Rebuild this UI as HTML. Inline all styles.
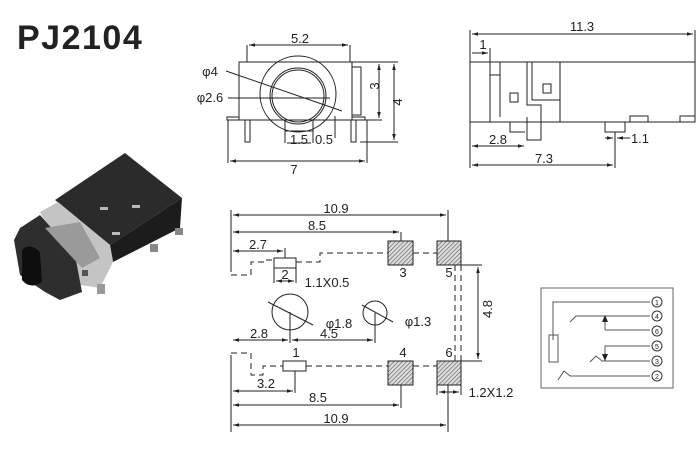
<!DOCTYPE html>
<html><head><meta charset="utf-8"><style>
html,body{margin:0;padding:0;background:#fff;}
svg{display:block;}
text{font-family:"Liberation Sans",Arial,sans-serif;fill:#222;}
</style></head><body>
<svg width="700" height="450" viewBox="0 0 700 450" xmlns="http://www.w3.org/2000/svg">
<defs>
<marker id="a" viewBox="0 0 10 10" refX="10" refY="5" markerWidth="8" markerHeight="6" orient="auto-start-reverse"><path d="M0,2 L10,5 L0,8 z" fill="#222"/></marker>
<pattern id="h" width="3" height="3" patternUnits="userSpaceOnUse" patternTransform="rotate(45)"><rect width="3" height="3" fill="#ddd"/><line x1="0" y1="0" x2="0" y2="3" stroke="#555" stroke-width="1.2"/></pattern>
</defs>
<text x="17" y="49" font-size="34" font-weight="bold" fill="#111" letter-spacing="1.5">PJ2104</text>

<!-- photo -->
<g>
<polygon points="55,200 125,153 182,198 110,245" fill="#2b2b2b"/>
<polygon points="110,245 182,198 180,228 113,262" fill="#1c1c1c"/>
<polygon points="40,212 58,202 110,245 113,262 100,288 80,285" fill="#c4c4c4"/>
<polygon points="20,228 40,215 75,255 82,292 60,300 45,292 20,275 14,240" fill="#2e2e2e"/>
<polygon points="45,228 80,222 100,258 82,268" fill="#9a9a9a"/>
<path d="M22,250 Q30,242 40,252 L42,282 Q30,290 22,280 z" fill="#0e0e0e"/>
<rect x="100" y="207" width="8" height="3" fill="#bbb"/><rect x="132" y="205" width="8" height="3" fill="#bbb"/><rect x="112" y="232" width="8" height="3" fill="#bbb"/>
<rect x="150" y="244" width="8" height="8" fill="#888"/><rect x="175" y="228" width="8" height="7" fill="#888"/>
<rect x="97" y="284" width="8" height="10" fill="#999"/><rect x="82" y="270" width="6" height="6" fill="#555"/>
</g>

<g stroke="#222" stroke-width="1" fill="none">
<!-- front view -->
<rect x="239" y="62" width="113" height="58"/>
<polyline points="239,117 227,117 227,120 365,120 365,117 352,117"/>
<rect x="245" y="120" width="5" height="22"/><rect x="351" y="120" width="5" height="22"/>
<rect x="352" y="67" width="9" height="48"/>
<circle cx="298" cy="94" r="38"/>
<circle cx="298" cy="96" r="28"/><circle cx="298" cy="96" r="26"/>
<polyline points="285,120 285,131 313,131 313,120"/>
<line x1="247" y1="45" x2="247" y2="62"/><line x1="350" y1="45" x2="350" y2="62"/>
<line x1="249" y1="45" x2="348" y2="45" marker-start="url(#a)" marker-end="url(#a)"/>
<line x1="228" y1="120" x2="228" y2="163"/><line x1="367" y1="120" x2="367" y2="163"/>
<line x1="230" y1="161" x2="365" y2="161" marker-start="url(#a)" marker-end="url(#a)"/>
<line x1="352" y1="62" x2="398" y2="62"/><line x1="362" y1="120" x2="382" y2="120"/><line x1="360" y1="142" x2="398" y2="142"/>
<line x1="379" y1="64" x2="379" y2="118" marker-start="url(#a)" marker-end="url(#a)"/>
<line x1="394" y1="64" x2="394" y2="140" marker-start="url(#a)" marker-end="url(#a)"/>
<line x1="226" y1="71" x2="342" y2="111"/>
<line x1="228" y1="98" x2="330" y2="98"/>
<line x1="335" y1="116" x2="335" y2="138"/><line x1="285" y1="131" x2="285" y2="143"/><line x1="313" y1="131" x2="313" y2="143"/>
<line x1="287" y1="143" x2="311" y2="143"/>

<!-- side view -->
<rect x="470" y="62" width="225" height="60"/>
<line x1="490" y1="62" x2="490" y2="122"/>
<line x1="490" y1="75" x2="500" y2="75"/>
<line x1="500" y1="62" x2="500" y2="117"/>
<polyline points="527,62 527,105 541,105 541,140 527,140 527,117"/>
<line x1="532" y1="62" x2="532" y2="100"/><line x1="532" y1="100" x2="560" y2="100"/><line x1="560" y1="62" x2="560" y2="122"/>
<rect x="510" y="93" width="8" height="9"/><rect x="543" y="84" width="8" height="9"/>
<polyline points="510,122 510,132 525,132"/>
<polyline points="605,122 605,132 625,132 625,122"/>
<rect x="630" y="116" width="18" height="6"/><rect x="680" y="116" width="15" height="6"/>
<line x1="470" y1="30" x2="470" y2="62"/><line x1="695" y1="30" x2="695" y2="62"/>
<line x1="472" y1="34" x2="693" y2="34" marker-start="url(#a)" marker-end="url(#a)"/>
<line x1="490" y1="48" x2="490" y2="62"/>
<line x1="472" y1="53" x2="488" y2="53" marker-end="url(#a)"/>
<line x1="470" y1="122" x2="470" y2="168"/>
<line x1="472" y1="146" x2="524" y2="146" marker-start="url(#a)" marker-end="url(#a)"/>
<line x1="472" y1="165" x2="613" y2="165" marker-start="url(#a)" marker-end="url(#a)"/>
<line x1="615" y1="132" x2="615" y2="168"/>
<line x1="605" y1="138" x2="613" y2="138" marker-end="url(#a)"/><line x1="630" y1="138" x2="617" y2="138" marker-end="url(#a)"/>

<!-- footprint -->
<line x1="231" y1="210" x2="231" y2="272"/><line x1="231" y1="355" x2="231" y2="432"/>
<line x1="448" y1="210" x2="448" y2="241"/><line x1="448" y1="385" x2="448" y2="432"/>
<line x1="233" y1="215" x2="446" y2="215" marker-start="url(#a)" marker-end="url(#a)"/>
<line x1="233" y1="232" x2="399" y2="232" marker-start="url(#a)" marker-end="url(#a)"/>
<line x1="401" y1="232" x2="401" y2="241"/>
<line x1="233" y1="251" x2="283" y2="251" marker-start="url(#a)" marker-end="url(#a)"/>
<line x1="285" y1="248" x2="285" y2="258"/>
<g stroke-dasharray="6,4">
<polyline points="231,275 251,275 251,262 265,262 265,260 274,260"/>
<polyline points="296,262 320,262 320,253 388,253"/>
<line x1="413" y1="253" x2="437" y2="253"/>
<line x1="461" y1="265" x2="461" y2="361"/>
<line x1="455" y1="265" x2="455" y2="361"/>
<polyline points="231,353 251,353 251,375 263,375 263,366 283,366"/>
<polyline points="306,366 388,366"/>
<line x1="413" y1="366" x2="437" y2="366"/>
</g>
<rect x="274" y="258" width="22" height="10"/>
<rect x="283" y="361" width="23" height="10"/>
<line x1="274" y1="268" x2="274" y2="283"/><line x1="296" y1="268" x2="296" y2="283"/>
<line x1="276" y1="281" x2="294" y2="281" marker-start="url(#a)" marker-end="url(#a)"/>
<circle cx="290" cy="312" r="18"/><circle cx="375" cy="313" r="12"/>
<line x1="268" y1="302" x2="313" y2="325"/><line x1="362" y1="305" x2="393" y2="322"/>
<line x1="290" y1="312" x2="290" y2="343"/><line x1="375" y1="313" x2="375" y2="343"/>
<line x1="233" y1="340" x2="288" y2="340" marker-start="url(#a)" marker-end="url(#a)"/>
<line x1="292" y1="340" x2="373" y2="340" marker-start="url(#a)" marker-end="url(#a)"/>
<line x1="295" y1="371" x2="295" y2="393"/>
<line x1="233" y1="391" x2="293" y2="391" marker-start="url(#a)" marker-end="url(#a)"/>
<line x1="401" y1="385" x2="401" y2="408"/>
<line x1="233" y1="405" x2="399" y2="405" marker-start="url(#a)" marker-end="url(#a)"/>
<line x1="233" y1="425" x2="446" y2="425" marker-start="url(#a)" marker-end="url(#a)"/>
<line x1="461" y1="265" x2="482" y2="265"/><line x1="461" y1="361" x2="482" y2="361"/>
<line x1="478" y1="267" x2="478" y2="359" marker-start="url(#a)" marker-end="url(#a)"/>
<line x1="437" y1="385" x2="437" y2="395"/><line x1="461" y1="385" x2="461" y2="395"/>
<line x1="439" y1="392" x2="459" y2="392" marker-start="url(#a)" marker-end="url(#a)"/>

<!-- schematic -->
<rect x="541" y="288" width="132" height="100" stroke="#666"/>
<g stroke="#555">
<polyline points="553,340 553,302 650,302"/>
<rect x="549" y="335" width="9" height="27"/>
<polyline points="570,322 576,316 582,316 650,316"/>
<line x1="605" y1="316" x2="605" y2="330"/><polyline points="605,330 650,330"/>
<polyline points="605,347 605,346 650,346"/><line x1="605" y1="346" x2="605" y2="361"/>
<polyline points="590,362 596,356 602,361 650,361"/>
<polyline points="558,380 564,371 570,376 650,376"/>
</g>
</g>
<g fill="#222">
<rect x="388" y="241" width="25" height="24" fill="url(#h)" stroke="#222"/>
<rect x="437" y="241" width="24" height="24" fill="url(#h)" stroke="#222"/>
<rect x="388" y="361" width="25" height="24" fill="url(#h)" stroke="#222"/>
<rect x="437" y="361" width="24" height="24" fill="url(#h)" stroke="#222"/>
<polygon points="602,322 605,315 608,322"/><polygon points="602,354 605,361 608,354"/>
</g>
<g stroke="#333" fill="#fff">
<circle cx="657" cy="302" r="5"/><circle cx="657" cy="316" r="5"/><circle cx="657" cy="331" r="5"/>
<circle cx="657" cy="346" r="5"/><circle cx="657" cy="361" r="5"/><circle cx="657" cy="376" r="5"/>
</g>
<g font-size="7" text-anchor="middle">
<text x="657" y="305">1</text><text x="657" y="319">4</text><text x="657" y="334">6</text>
<text x="657" y="349">5</text><text x="657" y="364">3</text><text x="657" y="379">2</text>
</g>
<g font-size="13" text-anchor="middle">
<text x="300" y="43">5.2</text>
<text x="294" y="174">7</text>
<text x="210" y="76">φ4</text>
<text x="210" y="102">φ2.6</text>
<text x="299" y="144">1.5</text><text x="324" y="144">0.5</text>
<text x="380" y="95" transform="rotate(-90 375 91)">3</text>
<text x="398" y="106" transform="rotate(-90 398 102)">4</text>
<text x="582" y="31">11.3</text>
<text x="483" y="49">1</text>
<text x="498" y="144">2.8</text>
<text x="544" y="163">7.3</text>
<text x="640" y="143">1.1</text>
<text x="336" y="213">10.9</text>
<text x="317" y="230">8.5</text>
<text x="258" y="249">2.7</text>
<text x="285" y="279">2</text>
<text x="327" y="287">1.1X0.5</text>
<text x="403" y="277">3</text><text x="449" y="277">5</text>
<text x="403" y="357">4</text><text x="449" y="357">6</text>
<text x="296" y="357">1</text>
<text x="339" y="328">φ1.8</text>
<text x="418" y="326">φ1.3</text>
<text x="259" y="338">2.8</text>
<text x="329" y="338">4.5</text>
<text x="266" y="388">3.2</text>
<text x="318" y="402">8.5</text>
<text x="336" y="423">10.9</text>
<text x="492" y="317" transform="rotate(-90 488 313)">4.8</text>
<text x="491" y="397">1.2X1.2</text>
</g>
</svg>
</body></html>
